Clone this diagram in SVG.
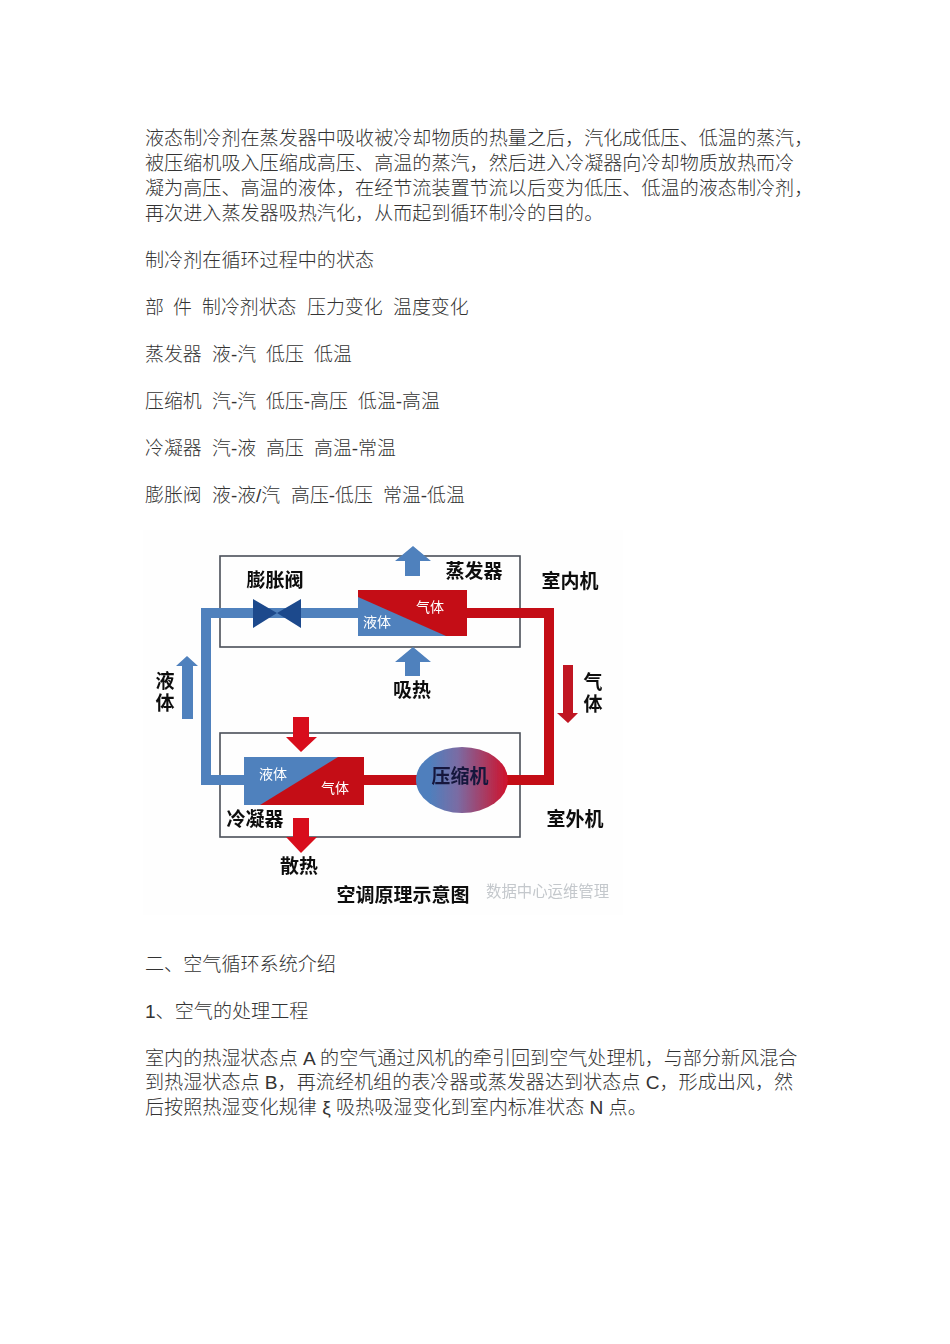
<svg xmlns="http://www.w3.org/2000/svg" width="950" height="1344" viewBox="0 0 950 1344">
<style>
text{font-family:"Liberation Sans","Noto Sans CJK SC",sans-serif}
.p{font-size:19.1px;fill:#333;font-weight:300}
.t{font-size:18.9px}
.l{font-size:19px;fill:#111;font-weight:700;text-anchor:middle;font-family:"Noto Sans CJK SC",sans-serif}
.v{writing-mode:vertical-rl;text-anchor:start;letter-spacing:3px}
.s{font-size:14px;fill:#fff;text-anchor:middle;font-family:"Noto Sans CJK SC",sans-serif}
.frame{fill:none;stroke:#4a5058;stroke-width:1.6}
.bp{fill:none;stroke:#4f81bd;stroke-width:10}
.rp{fill:none;stroke:#c40f17;stroke-width:10}
.ba{fill:#4f81bd}
.ra{fill:#d8111b}
</style>
<defs>
<linearGradient id="cg" x1="0" x2="1" y1="0" y2="0"><stop offset="0.15" stop-color="#4f7fbd"/><stop offset="0.45" stop-color="#7a6ca4"/><stop offset="1" stop-color="#d0112a"/></linearGradient>
<filter id="soft" x="-5%" y="-5%" width="110%" height="110%"><feGaussianBlur stdDeviation="0.6"/></filter>
</defs>
<rect width="950" height="1344" fill="#fff"/>
<g id="top-text">
<text class="p" x="145" y="145">液态制冷剂在蒸发器中吸收被冷却物质的热量之后，汽化成低压、低温的蒸汽，</text>
<text class="p" x="145" y="170">被压缩机吸入压缩成高压、高温的蒸汽，然后进入冷凝器向冷却物质放热而冷</text>
<text class="p" x="145" y="195">凝为高压、高温的液体，在经节流装置节流以后变为低压、低温的液态制冷剂，</text>
<text class="p" x="145" y="220">再次进入蒸发器吸热汽化，从而起到循环制冷的目的。</text>
<text class="p" x="145" y="267">制冷剂在循环过程中的状态</text>
</g>
<g id="state-table">
<text class="p t" y="314"><tspan x="145">部</tspan><tspan x="173">件</tspan><tspan x="202">制冷剂状态</tspan><tspan x="307">压力变化</tspan><tspan x="393">温度变化</tspan></text>
<text class="p t" y="361"><tspan x="145">蒸发器</tspan><tspan x="212">液-汽</tspan><tspan x="266">低压</tspan><tspan x="314">低温</tspan></text>
<text class="p t" y="408"><tspan x="145">压缩机</tspan><tspan x="212">汽-汽</tspan><tspan x="266">低压-高压</tspan><tspan x="358">低温-高温</tspan></text>
<text class="p t" y="455"><tspan x="145">冷凝器</tspan><tspan x="212">汽-液</tspan><tspan x="266">高压</tspan><tspan x="314">高温-常温</tspan></text>
<text class="p t" y="502"><tspan x="145">膨胀阀</tspan><tspan x="212">液-液/汽</tspan><tspan x="291">高压-低压</tspan><tspan x="383">常温-低温</tspan></text>
</g>
<rect x="143" y="530" width="480" height="385" fill="#fefefe"/>
<g filter="url(#soft)">
<g id="frames">
<rect id="indoor-frame" class="frame" x="220" y="556" width="300" height="91"/>
<rect id="outdoor-frame" class="frame" x="220" y="733" width="300" height="104"/>
</g>
<g id="connectors">
<path class="bp" d="M358 613H206V780H244"/>
<path class="rp" d="M467 613H549V780H505"/>
<path class="rp" d="M364 780H418"/>
<polygon class="ba" points="413,546 431,561 420,561 420,576 405,576 405,561 395,561"/>
<polygon class="ba" points="413,647 431,662 420,662 420,676 405,676 405,662 395,662"/>
<polygon class="ba" points="187,656 198,666 193,666 193,719 182,719 182,666 176,666"/>
<polygon class="ra" style="fill:#c01522" points="568,723 578,713 573,713 573,665 563,665 563,713 557,713"/>
<polygon class="ra" points="301,752 317,737 309,737 309,717 293,717 293,737 286,737"/>
<polygon class="ra" points="301,853 317,837 309,837 309,818 293,818 293,837 286,837"/>
</g>
<g id="valve"><polygon fill="#1f4a8c" points="253,599 277,613 301,599 301,628 277,613 253,628"/><text class="l" x="275" y="587">膨胀阀</text></g>
<g id="evaporator">
<rect x="358" y="590" width="109" height="46" fill="#c40f17"/>
<polygon class="ba" points="358,597 446,636 358,636"/>
<text class="s" x="377" y="627">液体</text><text class="s" x="430" y="612">气体</text>
<text class="l" x="474" y="578">蒸发器</text>
</g>
<g id="condenser">
<rect x="244" y="757" width="120" height="48" fill="#c40f17"/>
<polygon class="ba" points="244,757 338,757 260,805 244,805"/>
<text class="s" x="273" y="779">液体</text><text class="s" x="335" y="793">气体</text>
<text class="l" x="255" y="826">冷凝器</text>
</g>
<g id="compressor"><ellipse cx="462" cy="780" rx="46" ry="33" fill="url(#cg)"/><text class="l" x="460" y="783" style="fill:#14183c">压缩机</text></g>
<g id="labels">
<text class="l" x="570" y="588">室内机</text>
<text class="l" x="575" y="826">室外机</text>
<text class="l" x="412" y="697">吸热</text>
<text class="l" x="299" y="873">散热</text>
<text class="l v" x="165" y="671">液体</text>
<text class="l v" x="593" y="672">气体</text>
<text class="l" x="403" y="902">空调原理示意图</text>
<text x="486" y="897" style="font-size:15.4px;fill:#c4c8cc;font-family:'Noto Sans CJK SC',sans-serif">数据中心运维管理</text>
</g>
</g>
<g id="bottom-text">
<text class="p" x="145" y="971">二、空气循环系统介绍</text>
<text class="p" x="145" y="1018">1、空气的处理工程</text>
<text class="p" x="145" y="1065">室内的热湿状态点 A 的空气通过风机的牵引回到空气处理机，与部分新风混合</text>
<text class="p" x="145" y="1089">到热湿状态点 B，再流经机组的表冷器或蒸发器达到状态点 C，形成出风，然</text>
<text class="p" x="145" y="1114">后按照热湿变化规律 ξ 吸热吸湿变化到室内标准状态 N 点。</text>
</g>
</svg>
